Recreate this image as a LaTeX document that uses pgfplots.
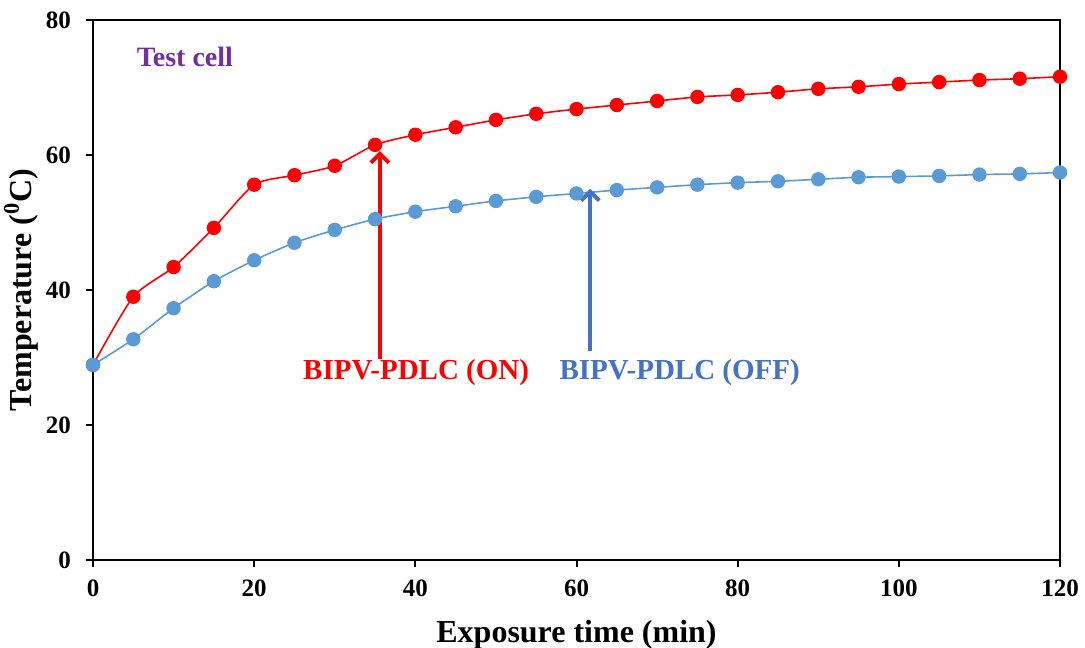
\documentclass[border=0pt]{standalone}
\usepackage{pgfplots}
\pgfplotsset{compat=1.18}
\usetikzlibrary{arrows.meta}
\usepackage{fontspec}
\setmainfont{Liberation Serif}
\definecolor{rred}{RGB}{255,0,0}
\definecolor{lblue}{RGB}{91,155,213}
\definecolor{dblue}{RGB}{68,114,196}
\definecolor{purp}{RGB}{112,48,160}
\pgfplotstableread{
x on off
0 28.9 28.9
5 39.0 32.7
10 43.4 37.3
15 49.2 41.3
20 55.6 44.4
25 57.0 47.0
30 58.4 48.9
35 61.5 50.5
40 63.0 51.6
45 64.1 52.4
50 65.2 53.2
55 66.1 53.8
60 66.8 54.3
65 67.4 54.8
70 68.0 55.2
75 68.6 55.6
80 68.9 55.9
85 69.3 56.1
90 69.8 56.4
95 70.1 56.7
100 70.5 56.8
105 70.8 56.9
110 71.1 57.1
115 71.3 57.2
120 71.6 57.4
}\datatab
\begin{document}
\begin{tikzpicture}
\begin{axis}[
  name=ax,
  scale only axis,
  width=483.5pt, height=270pt,
  xmin=0, xmax=120, ymin=0, ymax=80,
  xtick={0,20,...,120}, ytick={0,20,...,80},
  axis line style={line width=1pt},
  tick style={line width=1pt, black},
  tick align=outside, tick pos=left,
  major tick length=3.5pt,
  /pgf/number format/assume math mode=true,
  ticklabel style={font=\fontsize{12.5}{13}\selectfont\bfseries},
  xticklabel style={yshift=-3pt},
  yticklabel style={xshift=-4pt},
  xlabel={\textbf{Exposure time (min)}},
  ylabel={\textbf{Temperature (\textsuperscript{0}C)}},
  label style={font=\fontsize{16}{18}\selectfont},
  xlabel style={yshift=-5pt},
  ylabel style={yshift=-3pt},
  clip=false,
]
\addplot[rred, line width=0.8pt, smooth, tension=0.4, mark=*, mark size=3.2pt, mark options={solid,fill=rred,draw=rred}] table[x=x,y=on] {\datatab};
\addplot[lblue, line width=0.8pt, smooth, tension=0.4, mark=*, mark size=3.2pt, mark options={solid,fill=lblue,draw=lblue}] table[x=x,y=off] {\datatab};
\draw[rred, line width=2pt, -{Straight Barb[length=4.5pt,width=9pt]}] (axis cs:35.6,29.8) -- (axis cs:35.6,60.6);
\draw[dblue, line width=2pt, -{Straight Barb[length=4.5pt,width=9pt]}] (axis cs:61.7,31.0) -- (axis cs:61.7,55.0);
\node[rred, font=\fontsize{14.5}{16}\selectfont\bfseries] at (axis cs:40.1,27.7) {BIPV-PDLC (ON)};
\node[dblue, font=\fontsize{14.5}{16}\selectfont\bfseries] at (axis cs:72.8,27.7) {BIPV-PDLC (OFF)};
\node[purp, font=\fontsize{14}{16}\selectfont\bfseries] at (axis cs:11.4,74.5) {Test cell};
\end{axis}
\pgfresetboundingbox
\path ([xshift=-46.5pt,yshift=-44pt]ax.south west) rectangle ([xshift=12.5pt,yshift=10pt]ax.north east);
\end{tikzpicture}
\end{document}
